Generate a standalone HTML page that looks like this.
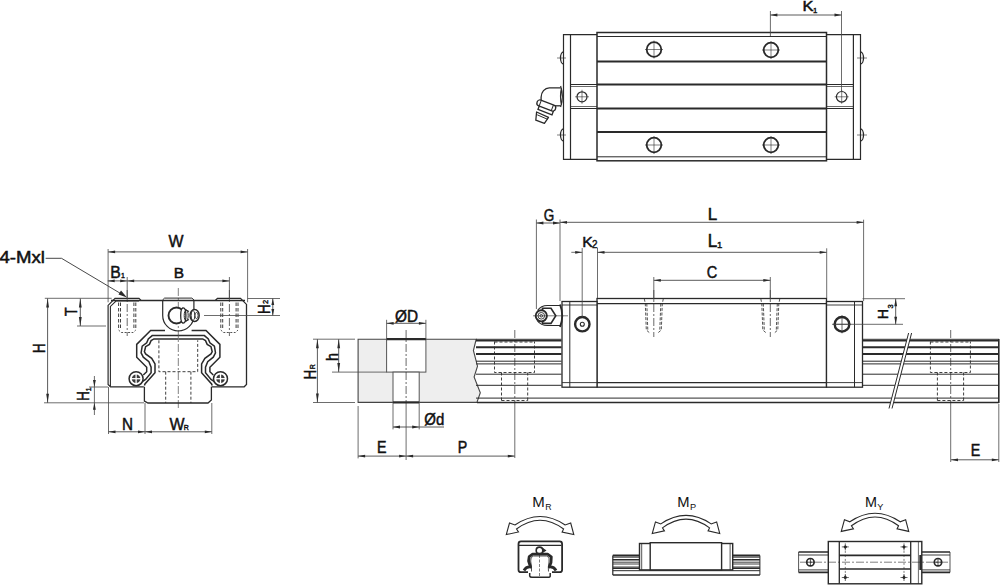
<!DOCTYPE html>
<html><head><meta charset="utf-8"><style>
html,body{margin:0;padding:0;background:#fff;}
svg{display:block;}
text{font-family:"Liberation Sans",sans-serif;fill:#111;}
</style></head><body>
<svg width="1000" height="585" viewBox="0 0 1000 585">
<rect x="597" y="32.5" width="229.5" height="128.3" fill="none" stroke="#2a2a2a" stroke-width="1.5"/>
<line x1="597" y1="36.5" x2="826.5" y2="36.5" stroke="#2a2a2a" stroke-width="1.0"/>
<line x1="597" y1="156.8" x2="826.5" y2="156.8" stroke="#2a2a2a" stroke-width="1.0"/>
<line x1="597" y1="61.5" x2="826.5" y2="61.5" stroke="#2a2a2a" stroke-width="2.0"/>
<line x1="597" y1="84.5" x2="826.5" y2="84.5" stroke="#2a2a2a" stroke-width="2.0"/>
<line x1="597" y1="108.5" x2="826.5" y2="108.5" stroke="#2a2a2a" stroke-width="2.0"/>
<line x1="597" y1="132" x2="826.5" y2="132" stroke="#2a2a2a" stroke-width="2.0"/>
<polyline points="597,34.7 563.5,34.7 563.5,159.3 597,159.3" fill="none" stroke="#2a2a2a" stroke-width="1.2" stroke-linejoin="miter"/>
<line x1="570.5" y1="34.7" x2="570.5" y2="159.3" stroke="#2a2a2a" stroke-width="1.2"/>
<line x1="570.5" y1="84.5" x2="597" y2="84.5" stroke="#2a2a2a" stroke-width="1.0"/>
<line x1="570.5" y1="86.5" x2="597" y2="86.5" stroke="#2a2a2a" stroke-width="0.7"/>
<line x1="570.5" y1="108.5" x2="597" y2="108.5" stroke="#2a2a2a" stroke-width="1.0"/>
<line x1="570.5" y1="106.5" x2="597" y2="106.5" stroke="#2a2a2a" stroke-width="0.7"/>
<circle cx="582" cy="96.8" r="5" fill="none" stroke="#2a2a2a" stroke-width="1.2"/>
<line x1="575" y1="96.8" x2="589" y2="96.8" stroke="#2a2a2a" stroke-width="0.6"/>
<line x1="582" y1="89.8" x2="582" y2="103.8" stroke="#2a2a2a" stroke-width="0.6"/>
<polyline points="826.5,34.7 860.5,34.7 860.5,159.3 826.5,159.3" fill="none" stroke="#2a2a2a" stroke-width="1.2" stroke-linejoin="miter"/>
<line x1="853.4" y1="34.7" x2="853.4" y2="159.3" stroke="#2a2a2a" stroke-width="1.2"/>
<line x1="826.5" y1="84.5" x2="853.4" y2="84.5" stroke="#2a2a2a" stroke-width="1.0"/>
<line x1="826.5" y1="86.5" x2="853.4" y2="86.5" stroke="#2a2a2a" stroke-width="0.7"/>
<line x1="826.5" y1="108.5" x2="853.4" y2="108.5" stroke="#2a2a2a" stroke-width="1.0"/>
<line x1="826.5" y1="106.5" x2="853.4" y2="106.5" stroke="#2a2a2a" stroke-width="0.7"/>
<circle cx="841.7" cy="96.8" r="5.3" fill="none" stroke="#2a2a2a" stroke-width="1.2"/>
<line x1="834.7" y1="96.8" x2="848.7" y2="96.8" stroke="#2a2a2a" stroke-width="0.6"/>
<line x1="841.7" y1="89.8" x2="841.7" y2="103.8" stroke="#2a2a2a" stroke-width="0.6"/>
<path d="M563.5,52 A3,6 0 0 0 563.5,64" fill="none" stroke="#2a2a2a" stroke-width="1.3" />
<line x1="557" y1="58" x2="566" y2="58" stroke="#2a2a2a" stroke-width="0.6"/>
<path d="M860.5,52 A3,6 0 0 1 860.5,64" fill="none" stroke="#2a2a2a" stroke-width="1.3" />
<line x1="857" y1="58" x2="867" y2="58" stroke="#2a2a2a" stroke-width="0.6"/>
<path d="M563.5,129 A3,6 0 0 0 563.5,141" fill="none" stroke="#2a2a2a" stroke-width="1.3" />
<line x1="557" y1="135" x2="566" y2="135" stroke="#2a2a2a" stroke-width="0.6"/>
<path d="M860.5,129 A3,6 0 0 1 860.5,141" fill="none" stroke="#2a2a2a" stroke-width="1.3" />
<line x1="857" y1="135" x2="867" y2="135" stroke="#2a2a2a" stroke-width="0.6"/>
<circle cx="654" cy="49.5" r="7.3" fill="none" stroke="#2a2a2a" stroke-width="1.8"/>
<line x1="645" y1="49.5" x2="663" y2="49.5" stroke="#2a2a2a" stroke-width="0.6"/>
<line x1="654" y1="40.5" x2="654" y2="58.5" stroke="#2a2a2a" stroke-width="0.6"/>
<circle cx="771" cy="50" r="7.3" fill="none" stroke="#2a2a2a" stroke-width="1.8"/>
<line x1="762" y1="50" x2="780" y2="50" stroke="#2a2a2a" stroke-width="0.6"/>
<line x1="771" y1="41" x2="771" y2="59" stroke="#2a2a2a" stroke-width="0.6"/>
<circle cx="654" cy="145" r="7.3" fill="none" stroke="#2a2a2a" stroke-width="1.8"/>
<line x1="645" y1="145" x2="663" y2="145" stroke="#2a2a2a" stroke-width="0.6"/>
<line x1="654" y1="136" x2="654" y2="154" stroke="#2a2a2a" stroke-width="0.6"/>
<circle cx="771" cy="145" r="7.3" fill="none" stroke="#2a2a2a" stroke-width="1.8"/>
<line x1="762" y1="145" x2="780" y2="145" stroke="#2a2a2a" stroke-width="0.6"/>
<line x1="771" y1="136" x2="771" y2="154" stroke="#2a2a2a" stroke-width="0.6"/>
<line x1="770.4" y1="11" x2="770.4" y2="36" stroke="#474747" stroke-width="0.8"/>
<line x1="841.5" y1="11" x2="841.5" y2="92" stroke="#474747" stroke-width="0.8"/>
<line x1="770.4" y1="15" x2="841.5" y2="15" stroke="#474747" stroke-width="0.9"/>
<polygon points="770.4,15 777.4,13.6 777.4,16.4" fill="#2a2a2a" stroke="none"/>
<polygon points="841.5,15 834.5,13.6 834.5,16.4" fill="#2a2a2a" stroke="none"/>
<text x="808" y="11.2" font-size="15" text-anchor="middle" font-weight="normal" stroke="#111" stroke-width="0.5" textLength="11" lengthAdjust="spacingAndGlyphs">K</text>
<text x="815.1" y="12.6" font-size="7.8" text-anchor="middle" font-weight="normal" stroke="#111" stroke-width="0.4">1</text>
<path d="M560.8,87.8 L549.3,87.8 A8.2,9.4 0 0 0 541.1,97.2 L541.1,100" fill="none" stroke="#2a2a2a" stroke-width="1.3" />
<line x1="555" y1="105.8" x2="560.8" y2="105.8" stroke="#2a2a2a" stroke-width="1.3"/>
<path d="M560.6,86 Q564.2,96.5 560.6,107 M561.5,88 Q559.5,96.5 561.5,105" fill="none" stroke="#2a2a2a" stroke-width="1.2" />
<polygon points="536.6,112 548.5,117.3 544.4,123.4 535.8,120.2" fill="#fff" stroke="#2a2a2a" stroke-width="1.3" stroke-linejoin="round"/>
<line x1="537.2" y1="114.8" x2="547.6" y2="119.3" stroke="#2a2a2a" stroke-width="1.0"/>
<g transform="translate(545.8,110) rotate(21)"><rect x="-7.5" y="-2.3" width="15" height="4.6" fill="#fff" stroke="#2a2a2a" stroke-width="1.3"/></g>
<g transform="translate(546.3,105.5) rotate(21)"><rect x="-9.8" y="-3" width="19.6" height="6" rx="2.8" fill="#fff" stroke="#2a2a2a" stroke-width="1.3"/><line x1="-6.5" y1="-3" x2="-6.5" y2="3" stroke="#2a2a2a" stroke-width="1"/><line x1="6.5" y1="-3" x2="6.5" y2="3" stroke="#2a2a2a" stroke-width="1"/></g>
<polyline points="143.8,386.8 110.5,386.8 108.1,384.5 108.1,305.4 115,298.3 139,298.3 141,300.3" fill="none" stroke="#2a2a2a" stroke-width="1.2" stroke-linejoin="miter"/>
<polyline points="110.4,386 110.4,306.4 116,301 139,301" fill="none" stroke="#2a2a2a" stroke-width="1.1" stroke-linejoin="miter"/>
<polyline points="211.7,386.8 244.2,386.8 246.5,384.5 246.5,304.4 240.5,298.3 217.5,298.3 215.5,300.3" fill="none" stroke="#2a2a2a" stroke-width="1.3" stroke-linejoin="miter"/>
<line x1="111" y1="300.4" x2="245" y2="300.4" stroke="#2a2a2a" stroke-width="1.5"/>
<polyline points="144.4,386.8 144.4,401 148,403 208,403 211.4,400 211.4,386.8" fill="none" stroke="#2a2a2a" stroke-width="1.3" stroke-linejoin="miter"/>
<polyline points="165,330.5 150.6,330.5 136.7,344.4 136.7,357.2 146.7,367.2 146.7,371.7 143.3,375" fill="none" stroke="#2a2a2a" stroke-width="1.5" stroke-linejoin="miter"/>
<polyline points="191.6,330.5 206.0,330.5 219.9,344.4 219.9,357.2 209.9,367.2 209.9,371.7 213.3,375" fill="none" stroke="#2a2a2a" stroke-width="1.5" stroke-linejoin="miter"/>
<polyline points="178.3,335.6 152.2,335.6 148.3,338.9 146.7,342.8 142.2,346.1 141.1,352.8 143.3,357.2 148.9,361.7 151.1,367.2 151.1,372.8 145.6,379.4 142.2,381.7" fill="none" stroke="#2a2a2a" stroke-width="1.5" stroke-linejoin="miter"/>
<polyline points="178.3,335.6 204.4,335.6 208.3,338.9 209.9,342.8 214.4,346.1 215.5,352.8 213.3,357.2 207.7,361.7 205.5,367.2 205.5,372.8 211.0,379.4 214.4,381.7" fill="none" stroke="#2a2a2a" stroke-width="1.5" stroke-linejoin="miter"/>
<polyline points="178.3,338.9 153.9,338.9 151.1,340.6 149.4,344.4 145.6,346.7 144.4,351.7 145.6,353.9 151.7,358.3 155,363.9 155,372.8 145,383.9 144.4,385.6" fill="none" stroke="#2a2a2a" stroke-width="1.5" stroke-linejoin="miter"/>
<polyline points="178.3,338.9 202.7,338.9 205.5,340.6 207.2,344.4 211.0,346.7 212.2,351.7 211.0,353.9 204.9,358.3 201.6,363.9 201.6,372.8 211.6,383.9 212.2,385.6" fill="none" stroke="#2a2a2a" stroke-width="1.5" stroke-linejoin="miter"/>
<circle cx="136.1" cy="378.7" r="7.0" fill="#fff" stroke="#2a2a2a" stroke-width="1.5"/>
<circle cx="136.1" cy="378.7" r="4.3" fill="#3a3a3a" stroke="#2a2a2a" stroke-width="0"/>
<line x1="131.1" y1="378.7" x2="141.1" y2="378.7" stroke="#fff" stroke-width="1.3"/>
<line x1="136.1" y1="373.5" x2="136.1" y2="384" stroke="#fff" stroke-width="1.3"/>
<circle cx="220.5" cy="378.7" r="7.0" fill="#fff" stroke="#2a2a2a" stroke-width="1.5"/>
<circle cx="220.5" cy="378.7" r="4.3" fill="#3a3a3a" stroke="#2a2a2a" stroke-width="0"/>
<line x1="215.5" y1="378.7" x2="225.5" y2="378.7" stroke="#fff" stroke-width="1.3"/>
<line x1="220.5" y1="373.5" x2="220.5" y2="384" stroke="#fff" stroke-width="1.3"/>
<polyline points="158.9,340.3 158.9,371.7 197.7,371.7 197.7,340.3" fill="none" stroke="#2a2a2a" stroke-width="0.9" stroke-linejoin="miter" stroke-dasharray="3,2"/>
<line x1="165.7" y1="371.7" x2="165.7" y2="403" stroke="#2a2a2a" stroke-width="0.9" stroke-dasharray="3,2"/>
<line x1="190.9" y1="371.7" x2="190.9" y2="403" stroke="#2a2a2a" stroke-width="0.9" stroke-dasharray="3,2"/>
<line x1="178.3" y1="288" x2="178.3" y2="410" stroke="#2a2a2a" stroke-width="0.6" stroke-dasharray="8,2,2,2"/>
<path d="M162.7,300.5 L162.7,315.4 A15.6,15.6 0 0 0 193.9,315.4 L193.9,300.5" fill="none" stroke="#2a2a2a" stroke-width="1.2" />
<polyline points="162.5,300 164.6,298.1 191.9,298.1 194,300" fill="none" stroke="#2a2a2a" stroke-width="1.0" stroke-linejoin="miter"/>
<circle cx="176.5" cy="315.5" r="8" fill="#fff" stroke="#2a2a2a" stroke-width="1.9"/>
<path d="M182,308 L189,311.5 M182,323 L189,319.5" stroke="#2a2a2a" stroke-width="1.1" fill="none"/>
<ellipse cx="183.3" cy="315.5" rx="2.6" ry="7.6" fill="#fff" stroke="#2a2a2a" stroke-width="1.3"/>
<ellipse cx="186.2" cy="315.5" rx="2" ry="5.5" fill="none" stroke="#2a2a2a" stroke-width="1.0"/>
<ellipse cx="194.6" cy="315.5" rx="4.6" ry="6" fill="#fff" stroke="#2a2a2a" stroke-width="1.4"/>
<ellipse cx="193" cy="315.5" rx="1.8" ry="5" fill="none" stroke="#2a2a2a" stroke-width="0.9"/>
<ellipse cx="196.5" cy="315.5" rx="1.6" ry="3" fill="none" stroke="#2a2a2a" stroke-width="0.9"/>
<line x1="118.60000000000001" y1="302.5" x2="118.60000000000001" y2="330" stroke="#2a2a2a" stroke-width="0.9" stroke-dasharray="3.5,2"/>
<line x1="120.5" y1="302.5" x2="120.5" y2="330" stroke="#2a2a2a" stroke-width="0.9" stroke-dasharray="3.5,2"/>
<line x1="133.9" y1="302.5" x2="133.9" y2="330" stroke="#2a2a2a" stroke-width="0.9" stroke-dasharray="3.5,2"/>
<line x1="135.8" y1="302.5" x2="135.8" y2="330" stroke="#2a2a2a" stroke-width="0.9" stroke-dasharray="3.5,2"/>
<line x1="127.2" y1="290" x2="127.2" y2="336" stroke="#2a2a2a" stroke-width="0.7" stroke-dasharray="8,2,2,2"/>
<polyline points="118.60000000000001,330 121.2,332.5 133.2,332.5 135.8,330" fill="none" stroke="#2a2a2a" stroke-width="0.8" stroke-linejoin="miter" stroke-dasharray="2,1.5"/>
<line x1="220.8" y1="302.5" x2="220.8" y2="330" stroke="#2a2a2a" stroke-width="0.9" stroke-dasharray="3.5,2"/>
<line x1="222.70000000000002" y1="302.5" x2="222.70000000000002" y2="330" stroke="#2a2a2a" stroke-width="0.9" stroke-dasharray="3.5,2"/>
<line x1="236.1" y1="302.5" x2="236.1" y2="330" stroke="#2a2a2a" stroke-width="0.9" stroke-dasharray="3.5,2"/>
<line x1="238.0" y1="302.5" x2="238.0" y2="330" stroke="#2a2a2a" stroke-width="0.9" stroke-dasharray="3.5,2"/>
<line x1="229.4" y1="290" x2="229.4" y2="336" stroke="#2a2a2a" stroke-width="0.7" stroke-dasharray="8,2,2,2"/>
<polyline points="220.8,330 223.4,332.5 235.4,332.5 238.0,330" fill="none" stroke="#2a2a2a" stroke-width="0.8" stroke-linejoin="miter" stroke-dasharray="2,1.5"/>
<line x1="108.1" y1="249" x2="108.1" y2="302.3" stroke="#474747" stroke-width="0.8"/>
<line x1="247.6" y1="249" x2="247.6" y2="302.3" stroke="#474747" stroke-width="0.8"/>
<line x1="108.1" y1="251.9" x2="247.6" y2="251.9" stroke="#474747" stroke-width="0.9"/>
<polygon points="108.1,251.9 115.1,250.5 115.1,253.3" fill="#2a2a2a" stroke="none"/>
<polygon points="247.6,251.9 240.6,250.5 240.6,253.3" fill="#2a2a2a" stroke="none"/>
<text x="176" y="247.4" font-size="16.7" text-anchor="middle" font-weight="normal" stroke="#111" stroke-width="0.5" textLength="15" lengthAdjust="spacingAndGlyphs">W</text>
<line x1="127.2" y1="277" x2="127.2" y2="300" stroke="#474747" stroke-width="0.8"/>
<line x1="229.4" y1="277" x2="229.4" y2="300" stroke="#474747" stroke-width="0.8"/>
<line x1="107.7" y1="280.9" x2="127.2" y2="280.9" stroke="#474747" stroke-width="0.9"/>
<polygon points="107.7,280.9 114.7,279.5 114.7,282.29999999999995" fill="#2a2a2a" stroke="none"/>
<polygon points="127.2,280.9 120.2,279.5 120.2,282.29999999999995" fill="#2a2a2a" stroke="none"/>
<line x1="127.2" y1="280.9" x2="229.4" y2="280.9" stroke="#474747" stroke-width="0.9"/>
<polygon points="127.2,280.9 134.2,279.5 134.2,282.29999999999995" fill="#2a2a2a" stroke="none"/>
<polygon points="229.4,280.9 222.4,279.5 222.4,282.29999999999995" fill="#2a2a2a" stroke="none"/>
<text x="115.6" y="277.8" font-size="16.5" text-anchor="middle" font-weight="normal" stroke="#111" stroke-width="0.5" textLength="10.5" lengthAdjust="spacingAndGlyphs">B</text>
<text x="123" y="278.4" font-size="7" text-anchor="middle" font-weight="normal" stroke="#111" stroke-width="0.4">1</text>
<text x="179" y="278.4" font-size="15.4" text-anchor="middle" font-weight="normal" stroke="#111" stroke-width="0.5" textLength="10.3" lengthAdjust="spacingAndGlyphs">B</text>
<text x="-0.5" y="263.4" font-size="16.9" text-anchor="start" font-weight="normal" stroke="#111" stroke-width="0.5" textLength="45.5" lengthAdjust="spacingAndGlyphs">4-Mxl</text>
<polyline points="45.6,258.3 61.5,258.3 124,295.5" fill="none" stroke="#333" stroke-width="0.9" stroke-linejoin="miter"/>
<polygon points="127,297.5 118.5,294.5 121,290.5" fill="#2a2a2a"/>
<line x1="44.8" y1="298.3" x2="111.7" y2="298.3" stroke="#474747" stroke-width="0.8"/>
<line x1="44" y1="402.8" x2="144" y2="402.8" stroke="#474747" stroke-width="0.8"/>
<line x1="47.6" y1="298.5" x2="47.6" y2="402.8" stroke="#474747" stroke-width="0.9"/>
<polygon points="47.6,298.5 46.2,307.5 49.0,307.5" fill="#2a2a2a" stroke="none"/>
<polygon points="47.6,402.8 46.2,393.8 49.0,393.8" fill="#2a2a2a" stroke="none"/>
<text x="45.2" y="348.2" font-size="16.5" text-anchor="middle" font-weight="normal" stroke="#111" stroke-width="0.5" textLength="10" lengthAdjust="spacingAndGlyphs" transform="rotate(-90 45.2 348.2)">H</text>
<line x1="77" y1="326" x2="106" y2="326" stroke="#474747" stroke-width="0.8"/>
<line x1="80.3" y1="298.5" x2="80.3" y2="326" stroke="#474747" stroke-width="0.9"/>
<polygon points="80.3,298.5 78.89999999999999,307.5 81.7,307.5" fill="#2a2a2a" stroke="none"/>
<polygon points="80.3,326 78.89999999999999,317 81.7,317" fill="#2a2a2a" stroke="none"/>
<text x="77.4" y="311.7" font-size="17" text-anchor="middle" font-weight="normal" stroke="#111" stroke-width="0.5" textLength="8.6" lengthAdjust="spacingAndGlyphs" transform="rotate(-90 77.4 311.7)">T</text>
<line x1="89" y1="387" x2="108" y2="387" stroke="#474747" stroke-width="0.8"/>
<line x1="94.4" y1="376" x2="94.4" y2="415" stroke="#474747" stroke-width="0.8"/>
<polygon points="94.4,387 93.0,380 95.80000000000001,380" fill="#2a2a2a" stroke="none"/>
<polygon points="94.4,402.8 93.0,409.8 95.80000000000001,409.8" fill="#2a2a2a" stroke="none"/>
<text x="89.4" y="396" font-size="16" text-anchor="middle" font-weight="normal" stroke="#111" stroke-width="0.5" textLength="9.6" lengthAdjust="spacingAndGlyphs" transform="rotate(-90 89.4 396)">H</text>
<text x="90.6" y="389.4" font-size="7" text-anchor="middle" font-weight="normal" stroke="#111" stroke-width="0.4" transform="rotate(-90 90.6 389.4)">1</text>
<line x1="247.6" y1="298.5" x2="280" y2="298.5" stroke="#474747" stroke-width="0.8"/>
<line x1="204" y1="315.5" x2="280" y2="315.5" stroke="#474747" stroke-width="0.8"/>
<line x1="272.8" y1="298.5" x2="272.8" y2="315.5" stroke="#474747" stroke-width="0.9"/>
<polygon points="272.8,298.5 271.40000000000003,305.0 274.2,305.0" fill="#2a2a2a" stroke="none"/>
<polygon points="272.8,315.5 271.40000000000003,309.0 274.2,309.0" fill="#2a2a2a" stroke="none"/>
<text x="269.8" y="309.2" font-size="16.5" text-anchor="middle" font-weight="normal" stroke="#111" stroke-width="0.5" textLength="9.5" lengthAdjust="spacingAndGlyphs" transform="rotate(-90 269.8 309.2)">H</text>
<text x="268.2" y="302" font-size="7.5" text-anchor="middle" font-weight="normal" stroke="#111" stroke-width="0.4" transform="rotate(-90 268.2 302)">2</text>
<line x1="108.5" y1="387" x2="108.5" y2="434" stroke="#474747" stroke-width="0.8"/>
<line x1="145" y1="403" x2="145" y2="434" stroke="#474747" stroke-width="0.8"/>
<line x1="211.8" y1="403" x2="211.8" y2="434" stroke="#474747" stroke-width="0.8"/>
<line x1="108.5" y1="431.8" x2="145" y2="431.8" stroke="#474747" stroke-width="0.9"/>
<polygon points="108.5,431.8 115.5,430.40000000000003 115.5,433.2" fill="#2a2a2a" stroke="none"/>
<polygon points="145,431.8 138,430.40000000000003 138,433.2" fill="#2a2a2a" stroke="none"/>
<line x1="145" y1="431.8" x2="211.8" y2="431.8" stroke="#474747" stroke-width="0.9"/>
<polygon points="145,431.8 152,430.40000000000003 152,433.2" fill="#2a2a2a" stroke="none"/>
<polygon points="211.8,431.8 204.8,430.40000000000003 204.8,433.2" fill="#2a2a2a" stroke="none"/>
<text x="127.5" y="429.8" font-size="17.3" text-anchor="middle" font-weight="normal" stroke="#111" stroke-width="0.5" textLength="11" lengthAdjust="spacingAndGlyphs">N</text>
<text x="176.9" y="429.8" font-size="17.3" text-anchor="middle" font-weight="normal" stroke="#111" stroke-width="0.5" textLength="15" lengthAdjust="spacingAndGlyphs">W</text>
<text x="186.3" y="430.2" font-size="7" text-anchor="middle" font-weight="normal" stroke="#111" stroke-width="0.4">R</text>
<path d="M358.1,339.2 L476.2,339.2 L473.4,350.5 L477.5,366.2 L474.1,377 L480.3,392.8 L476.9,402.4 L358.1,402.4 Z" fill="#eeeeee" stroke="#444" stroke-width="1.1" />
<rect x="386.6" y="339.2" width="39.3" height="32.9" fill="#fff" stroke="#555" stroke-width="1.0"/>
<rect x="393" y="372.1" width="26.2" height="30.3" fill="#fff" stroke="#555" stroke-width="1.0"/>
<line x1="386.6" y1="339.2" x2="425.9" y2="339.2" stroke="#2a2a2a" stroke-width="2.2"/>
<line x1="393" y1="402.4" x2="419.2" y2="402.4" stroke="#2a2a2a" stroke-width="2.2"/>
<line x1="406.1" y1="330" x2="406.1" y2="404" stroke="#2a2a2a" stroke-width="0.7" stroke-dasharray="8,2,2,2"/>
<line x1="406.1" y1="404" x2="406.1" y2="460" stroke="#474747" stroke-width="0.8"/>
<line x1="386.6" y1="319.8" x2="386.6" y2="339" stroke="#474747" stroke-width="0.8"/>
<line x1="425.9" y1="319.8" x2="425.9" y2="339" stroke="#474747" stroke-width="0.8"/>
<line x1="386.6" y1="323.3" x2="425.9" y2="323.3" stroke="#474747" stroke-width="0.9"/>
<polygon points="386.6,323.3 393.6,321.90000000000003 393.6,324.7" fill="#2a2a2a" stroke="none"/>
<polygon points="425.9,323.3 418.9,321.90000000000003 418.9,324.7" fill="#2a2a2a" stroke="none"/>
<text x="406.6" y="321.7" font-size="16" text-anchor="middle" font-weight="normal" stroke="#111" stroke-width="0.5" textLength="23" lengthAdjust="spacingAndGlyphs">ØD</text>
<line x1="332" y1="372.1" x2="386.6" y2="372.1" stroke="#474747" stroke-width="0.8"/>
<line x1="338.7" y1="339.2" x2="338.7" y2="372.1" stroke="#474747" stroke-width="0.9"/>
<polygon points="338.7,339.2 337.3,348.2 340.09999999999997,348.2" fill="#2a2a2a" stroke="none"/>
<polygon points="338.7,372.1 337.3,363.1 340.09999999999997,363.1" fill="#2a2a2a" stroke="none"/>
<text x="337.6" y="357" font-size="16.5" text-anchor="middle" font-weight="normal" stroke="#111" stroke-width="0.5" textLength="8" lengthAdjust="spacingAndGlyphs" transform="rotate(-90 337.6 357)">h</text>
<line x1="313" y1="339.2" x2="355" y2="339.2" stroke="#474747" stroke-width="0.8"/>
<line x1="313" y1="402.5" x2="355" y2="402.5" stroke="#474747" stroke-width="0.8"/>
<line x1="317.4" y1="339.2" x2="317.4" y2="402.5" stroke="#474747" stroke-width="0.9"/>
<polygon points="317.4,339.2 316.0,348.2 318.79999999999995,348.2" fill="#2a2a2a" stroke="none"/>
<polygon points="317.4,402.5 316.0,393.5 318.79999999999995,393.5" fill="#2a2a2a" stroke="none"/>
<text x="315.6" y="374.6" font-size="16.5" text-anchor="middle" font-weight="normal" stroke="#111" stroke-width="0.5" textLength="9.4" lengthAdjust="spacingAndGlyphs" transform="rotate(-90 315.6 374.6)">H</text>
<text x="315.5" y="366.6" font-size="7" text-anchor="middle" font-weight="normal" stroke="#111" stroke-width="0.4" transform="rotate(-90 315.5 366.6)">R</text>
<line x1="393" y1="402.6" x2="393" y2="429.4" stroke="#474747" stroke-width="0.8"/>
<line x1="419.2" y1="402.6" x2="419.2" y2="429.4" stroke="#474747" stroke-width="0.8"/>
<line x1="393" y1="427" x2="419.2" y2="427" stroke="#474747" stroke-width="0.9"/>
<polygon points="393,427 400,425.6 400,428.4" fill="#2a2a2a" stroke="none"/>
<polygon points="419.2,427 412.2,425.6 412.2,428.4" fill="#2a2a2a" stroke="none"/>
<line x1="419.2" y1="427" x2="444" y2="427" stroke="#474747" stroke-width="0.9"/>
<text x="434.3" y="425.4" font-size="17" text-anchor="middle" font-weight="normal" stroke="#111" stroke-width="0.5" textLength="20" lengthAdjust="spacingAndGlyphs">Ød</text>
<line x1="358.1" y1="406" x2="358.1" y2="458.4" stroke="#474747" stroke-width="0.8"/>
<line x1="358.1" y1="456.1" x2="406.1" y2="456.1" stroke="#474747" stroke-width="0.9"/>
<polygon points="358.1,456.1 365.1,454.70000000000005 365.1,457.5" fill="#2a2a2a" stroke="none"/>
<polygon points="406.1,456.1 399.1,454.70000000000005 399.1,457.5" fill="#2a2a2a" stroke="none"/>
<line x1="406.1" y1="456.1" x2="514.8" y2="456.1" stroke="#474747" stroke-width="0.9"/>
<polygon points="406.1,456.1 413.1,454.70000000000005 413.1,457.5" fill="#2a2a2a" stroke="none"/>
<polygon points="514.8,456.1 507.79999999999995,454.70000000000005 507.79999999999995,457.5" fill="#2a2a2a" stroke="none"/>
<text x="381.8" y="453.4" font-size="16.5" text-anchor="middle" font-weight="normal" stroke="#111" stroke-width="0.5" textLength="9.5" lengthAdjust="spacingAndGlyphs">E</text>
<text x="462.5" y="453.4" font-size="16.5" text-anchor="middle" font-weight="normal" stroke="#111" stroke-width="0.5" textLength="9.5" lengthAdjust="spacingAndGlyphs">P</text>
<line x1="476" y1="339.3" x2="561.5" y2="339.3" stroke="#2a2a2a" stroke-width="1.0"/>
<line x1="476" y1="340.8" x2="561.5" y2="340.8" stroke="#2a2a2a" stroke-width="1.6"/>
<line x1="476" y1="347.2" x2="561.5" y2="347.2" stroke="#2a2a2a" stroke-width="2.0"/>
<line x1="476" y1="353.9" x2="561.5" y2="353.9" stroke="#2a2a2a" stroke-width="2.0"/>
<line x1="476" y1="361.2" x2="561.5" y2="361.2" stroke="#2a2a2a" stroke-width="1.0"/>
<line x1="476" y1="363.9" x2="561.5" y2="363.9" stroke="#2a2a2a" stroke-width="1.0"/>
<line x1="476" y1="374.2" x2="561.5" y2="374.2" stroke="#2a2a2a" stroke-width="1.0"/>
<line x1="476" y1="385.3" x2="561.5" y2="385.3" stroke="#2a2a2a" stroke-width="1.0"/>
<line x1="862.5" y1="339.3" x2="999" y2="339.3" stroke="#2a2a2a" stroke-width="1.0"/>
<line x1="862.5" y1="340.8" x2="999" y2="340.8" stroke="#2a2a2a" stroke-width="1.6"/>
<line x1="862.5" y1="347.2" x2="999" y2="347.2" stroke="#2a2a2a" stroke-width="2.0"/>
<line x1="862.5" y1="353.9" x2="999" y2="353.9" stroke="#2a2a2a" stroke-width="2.0"/>
<line x1="862.5" y1="361.2" x2="999" y2="361.2" stroke="#2a2a2a" stroke-width="1.0"/>
<line x1="862.5" y1="363.9" x2="999" y2="363.9" stroke="#2a2a2a" stroke-width="1.0"/>
<line x1="862.5" y1="374.2" x2="999" y2="374.2" stroke="#2a2a2a" stroke-width="1.0"/>
<line x1="862.5" y1="385.3" x2="999" y2="385.3" stroke="#2a2a2a" stroke-width="1.0"/>
<line x1="476" y1="398.1" x2="999" y2="398.1" stroke="#2a2a2a" stroke-width="1.0"/>
<line x1="476.9" y1="402.5" x2="999" y2="402.5" stroke="#2a2a2a" stroke-width="1.4"/>
<line x1="998.8" y1="339" x2="998.8" y2="403" stroke="#2a2a2a" stroke-width="1.6"/>
<polyline points="494.49999999999994,341.5 494.49999999999994,372.5 534.5,372.5 534.5,341.5" fill="none" stroke="#2a2a2a" stroke-width="0.9" stroke-linejoin="miter" stroke-dasharray="3,2"/>
<line x1="494.49999999999994" y1="342" x2="534.5" y2="342" stroke="#2a2a2a" stroke-width="0.9" stroke-dasharray="3,2"/>
<line x1="501.49999999999994" y1="372.5" x2="501.49999999999994" y2="402" stroke="#2a2a2a" stroke-width="0.9" stroke-dasharray="3,2"/>
<line x1="527.6999999999999" y1="372.5" x2="527.6999999999999" y2="402" stroke="#2a2a2a" stroke-width="0.9" stroke-dasharray="3,2"/>
<line x1="501.49999999999994" y1="400.5" x2="527.6999999999999" y2="400.5" stroke="#2a2a2a" stroke-width="0.9" stroke-dasharray="3,2"/>
<line x1="514.8" y1="330" x2="514.8" y2="405" stroke="#2a2a2a" stroke-width="0.7" stroke-dasharray="8,2,2,2"/>
<polyline points="930.4000000000001,341.5 930.4000000000001,372.5 970.4000000000001,372.5 970.4000000000001,341.5" fill="none" stroke="#2a2a2a" stroke-width="0.9" stroke-linejoin="miter" stroke-dasharray="3,2"/>
<line x1="930.4000000000001" y1="342" x2="970.4000000000001" y2="342" stroke="#2a2a2a" stroke-width="0.9" stroke-dasharray="3,2"/>
<line x1="937.4000000000001" y1="372.5" x2="937.4000000000001" y2="402" stroke="#2a2a2a" stroke-width="0.9" stroke-dasharray="3,2"/>
<line x1="963.6" y1="372.5" x2="963.6" y2="402" stroke="#2a2a2a" stroke-width="0.9" stroke-dasharray="3,2"/>
<line x1="937.4000000000001" y1="400.5" x2="963.6" y2="400.5" stroke="#2a2a2a" stroke-width="0.9" stroke-dasharray="3,2"/>
<line x1="950.7" y1="330" x2="950.7" y2="405" stroke="#2a2a2a" stroke-width="0.7" stroke-dasharray="8,2,2,2"/>
<line x1="514.8" y1="405" x2="514.8" y2="458" stroke="#474747" stroke-width="0.8"/>
<line x1="950.7" y1="405" x2="950.7" y2="462" stroke="#474747" stroke-width="0.8"/>
<polygon points="908.6,333 911.6,333 892,408.5 889,408.5" fill="#fff" stroke="none"/>
<line x1="908.6" y1="333" x2="889" y2="408.5" stroke="#2a2a2a" stroke-width="1.0"/>
<line x1="911.6" y1="333" x2="892" y2="408.5" stroke="#2a2a2a" stroke-width="1.0"/>
<rect x="597" y="298.5" width="229.5" height="88.7" fill="#fff" stroke="#2a2a2a" stroke-width="1.3"/>
<line x1="597" y1="303.6" x2="826.5" y2="303.6" stroke="#2a2a2a" stroke-width="1.2"/>
<line x1="597" y1="382.6" x2="826.5" y2="382.6" stroke="#2a2a2a" stroke-width="1.3"/>
<rect x="562" y="301.5" width="35" height="85.7" fill="#fff" stroke="#2a2a2a" stroke-width="1.3"/>
<line x1="569.8" y1="301.5" x2="569.8" y2="387.2" stroke="#2a2a2a" stroke-width="1.0"/>
<line x1="562" y1="305" x2="597" y2="305" stroke="#2a2a2a" stroke-width="0.9"/>
<line x1="562" y1="382.6" x2="597" y2="382.6" stroke="#2a2a2a" stroke-width="0.9"/>
<rect x="826.5" y="301.5" width="36" height="85.7" fill="#fff" stroke="#2a2a2a" stroke-width="1.3"/>
<line x1="854.5" y1="301.5" x2="854.5" y2="387.2" stroke="#2a2a2a" stroke-width="1.0"/>
<line x1="826.5" y1="305" x2="862.5" y2="305" stroke="#2a2a2a" stroke-width="0.9"/>
<line x1="826.5" y1="382.6" x2="862.5" y2="382.6" stroke="#2a2a2a" stroke-width="0.9"/>
<circle cx="582.3" cy="324.2" r="7.2" fill="none" stroke="#2a2a2a" stroke-width="2.4"/>
<circle cx="582.3" cy="324.2" r="2" fill="none" stroke="#2a2a2a" stroke-width="1.1"/>
<circle cx="842" cy="324.3" r="7.3" fill="none" stroke="#2a2a2a" stroke-width="2.4"/>
<line x1="833" y1="324.3" x2="851" y2="324.3" stroke="#2a2a2a" stroke-width="0.7"/>
<line x1="842" y1="315.3" x2="842" y2="333.3" stroke="#2a2a2a" stroke-width="0.7"/>
<polyline points="644.3,298.8 645.3,303.6 646.3,330 649.8,333" fill="none" stroke="#2a2a2a" stroke-width="0.8" stroke-linejoin="miter" stroke-dasharray="3,1.6"/>
<polyline points="646.8,303.6 647.8,330" fill="none" stroke="#2a2a2a" stroke-width="0.8" stroke-linejoin="miter" stroke-dasharray="3,1.6"/>
<polyline points="663.3,298.8 662.3,303.6 661.3,330 657.8,333" fill="none" stroke="#2a2a2a" stroke-width="0.8" stroke-linejoin="miter" stroke-dasharray="3,1.6"/>
<polyline points="660.8,303.6 659.8,330" fill="none" stroke="#2a2a2a" stroke-width="0.8" stroke-linejoin="miter" stroke-dasharray="3,1.6"/>
<line x1="653.8" y1="290" x2="653.8" y2="337" stroke="#2a2a2a" stroke-width="0.7" stroke-dasharray="8,2,2,2"/>
<polyline points="760.8,298.8 761.8,303.6 762.8,330 766.3,333" fill="none" stroke="#2a2a2a" stroke-width="0.8" stroke-linejoin="miter" stroke-dasharray="3,1.6"/>
<polyline points="763.3,303.6 764.3,330" fill="none" stroke="#2a2a2a" stroke-width="0.8" stroke-linejoin="miter" stroke-dasharray="3,1.6"/>
<polyline points="779.8,298.8 778.8,303.6 777.8,330 774.3,333" fill="none" stroke="#2a2a2a" stroke-width="0.8" stroke-linejoin="miter" stroke-dasharray="3,1.6"/>
<polyline points="777.3,303.6 776.3,330" fill="none" stroke="#2a2a2a" stroke-width="0.8" stroke-linejoin="miter" stroke-dasharray="3,1.6"/>
<line x1="770.3" y1="290" x2="770.3" y2="337" stroke="#2a2a2a" stroke-width="0.7" stroke-dasharray="8,2,2,2"/>
<path d="M537.5,310.5 Q541,305.5 547.4,305.5 L560.5,305.5 M537.5,321 Q541,325.5 547.4,325.5 L560.5,325.5" fill="none" stroke="#2a2a2a" stroke-width="1.2" />
<path d="M560,304.5 Q564.5,315.8 560,327" fill="none" stroke="#2a2a2a" stroke-width="1.8" />
<polygon points="542.5,308.3 551,308.3 555.8,315.8 551,323.4 542.5,323.4" fill="#fff" stroke="#2a2a2a" stroke-width="1.6"/>
<circle cx="541.3" cy="315.8" r="5.6" fill="#fff" stroke="#2a2a2a" stroke-width="1.9"/>
<circle cx="541.3" cy="315.8" r="3.3" fill="none" stroke="#2a2a2a" stroke-width="0.9"/>
<circle cx="541.3" cy="315.8" r="1.3" fill="none" stroke="#2a2a2a" stroke-width="0.9"/>
<line x1="533" y1="315.8" x2="568" y2="315.8" stroke="#2a2a2a" stroke-width="0.6"/>
<line x1="536.4" y1="219.5" x2="536.4" y2="309" stroke="#474747" stroke-width="0.8"/>
<line x1="560" y1="219.5" x2="560" y2="301" stroke="#474747" stroke-width="0.8"/>
<line x1="536.4" y1="223" x2="560" y2="223" stroke="#474747" stroke-width="0.9"/>
<polygon points="536.4,223 543.4,221.6 543.4,224.4" fill="#2a2a2a" stroke="none"/>
<polygon points="560,223 553,221.6 553,224.4" fill="#2a2a2a" stroke="none"/>
<text x="548.9" y="220.5" font-size="16.2" text-anchor="middle" font-weight="normal" stroke="#111" stroke-width="0.5" textLength="10.5" lengthAdjust="spacingAndGlyphs">G</text>
<line x1="863.6" y1="219.7" x2="863.6" y2="301" stroke="#474747" stroke-width="0.8"/>
<line x1="560" y1="222.3" x2="863.6" y2="222.3" stroke="#474747" stroke-width="0.9"/>
<polygon points="560,222.3 567,220.9 567,223.70000000000002" fill="#2a2a2a" stroke="none"/>
<polygon points="863.6,222.3 856.6,220.9 856.6,223.70000000000002" fill="#2a2a2a" stroke="none"/>
<text x="712.5" y="219.6" font-size="16.9" text-anchor="middle" font-weight="normal" stroke="#111" stroke-width="0.5" textLength="9.5" lengthAdjust="spacingAndGlyphs">L</text>
<line x1="582.2" y1="248" x2="582.2" y2="317" stroke="#474747" stroke-width="0.8"/>
<line x1="597.5" y1="248" x2="597.5" y2="298" stroke="#474747" stroke-width="0.8"/>
<line x1="571.3" y1="252.3" x2="582.2" y2="252.3" stroke="#474747" stroke-width="0.8"/>
<polygon points="582.2,252.3 575.2,250.9 575.2,253.70000000000002" fill="#2a2a2a" stroke="none"/>
<line x1="597.5" y1="252.3" x2="826.7" y2="252.3" stroke="#474747" stroke-width="0.9"/>
<polygon points="597.5,252.3 604.5,250.9 604.5,253.70000000000002" fill="#2a2a2a" stroke="none"/>
<polygon points="826.7,252.3 819.7,250.9 819.7,253.70000000000002" fill="#2a2a2a" stroke="none"/>
<line x1="826.7" y1="248.3" x2="826.7" y2="298" stroke="#474747" stroke-width="0.8"/>
<text x="587.4" y="246.5" font-size="15.5" text-anchor="middle" font-weight="normal" stroke="#111" stroke-width="0.5" textLength="10.5" lengthAdjust="spacingAndGlyphs">K</text>
<text x="594.7" y="248" font-size="10.5" text-anchor="middle" font-weight="normal" stroke="#111" stroke-width="0.4" textLength="5.5" lengthAdjust="spacingAndGlyphs">2</text>
<text x="712.5" y="247.2" font-size="17.5" text-anchor="middle" font-weight="normal" stroke="#111" stroke-width="0.5" textLength="9.5" lengthAdjust="spacingAndGlyphs">L</text>
<text x="719.7" y="248" font-size="9.5" text-anchor="middle" font-weight="normal" stroke="#111" stroke-width="0.4">1</text>
<line x1="653.8" y1="277" x2="653.8" y2="300" stroke="#474747" stroke-width="0.8"/>
<line x1="770.3" y1="277" x2="770.3" y2="300" stroke="#474747" stroke-width="0.8"/>
<line x1="653.8" y1="280.3" x2="770.3" y2="280.3" stroke="#474747" stroke-width="0.9"/>
<polygon points="653.8,280.3 660.8,278.90000000000003 660.8,281.7" fill="#2a2a2a" stroke="none"/>
<polygon points="770.3,280.3 763.3,278.90000000000003 763.3,281.7" fill="#2a2a2a" stroke="none"/>
<text x="712.1" y="277.6" font-size="16.5" text-anchor="middle" font-weight="normal" stroke="#111" stroke-width="0.5" textLength="10.5" lengthAdjust="spacingAndGlyphs">C</text>
<line x1="862.5" y1="298.7" x2="905" y2="298.7" stroke="#474747" stroke-width="0.8"/>
<line x1="832" y1="324.3" x2="903" y2="324.3" stroke="#474747" stroke-width="0.8"/>
<line x1="895.7" y1="298.7" x2="895.7" y2="324.3" stroke="#474747" stroke-width="0.9"/>
<polygon points="895.7,298.7 894.3000000000001,306.2 897.1,306.2" fill="#2a2a2a" stroke="none"/>
<polygon points="895.7,324.3 894.3000000000001,316.8 897.1,316.8" fill="#2a2a2a" stroke="none"/>
<text x="887.9" y="314.2" font-size="15.5" text-anchor="middle" font-weight="normal" stroke="#111" stroke-width="0.5" textLength="10.3" lengthAdjust="spacingAndGlyphs" transform="rotate(-90 887.9 314.2)">H</text>
<text x="893" y="306.5" font-size="7.5" text-anchor="middle" font-weight="normal" stroke="#111" stroke-width="0.4" transform="rotate(-90 893 306.5)">3</text>
<line x1="998.8" y1="404" x2="998.8" y2="462" stroke="#474747" stroke-width="0.8"/>
<line x1="951" y1="459.8" x2="998.8" y2="459.8" stroke="#474747" stroke-width="0.9"/>
<polygon points="951,459.8 958,458.40000000000003 958,461.2" fill="#2a2a2a" stroke="none"/>
<polygon points="998.8,459.8 991.8,458.40000000000003 991.8,461.2" fill="#2a2a2a" stroke="none"/>
<text x="975.5" y="456" font-size="15.6" text-anchor="middle" font-weight="normal" stroke="#111" stroke-width="0.5" textLength="9.5" lengthAdjust="spacingAndGlyphs">E</text>
<path transform="translate(0.00,0.00)" d="M514.9,525 Q540.05,508 565.2,525 L570.7,523 L573.8,534.6 L562.1,532 L563.6,529 Q540.05,511.4 516.5,529 L518.5,532 L506.3,534.6 L509.5,523 Z" fill="#fff" stroke="#2a2a2a" stroke-width="1.1" stroke-linejoin="miter"/>
<path transform="translate(145.95,-1.10)" d="M514.9,525 Q540.05,508 565.2,525 L570.7,523 L573.8,534.6 L562.1,532 L563.6,529 Q540.05,511.4 516.5,529 L518.5,532 L506.3,534.6 L509.5,523 Z" fill="#fff" stroke="#2a2a2a" stroke-width="1.1" stroke-linejoin="miter"/>
<path transform="translate(334.95,-3.20)" d="M514.9,525 Q540.05,508 565.2,525 L570.7,523 L573.8,534.6 L562.1,532 L563.6,529 Q540.05,511.4 516.5,529 L518.5,532 L506.3,534.6 L509.5,523 Z" fill="#fff" stroke="#2a2a2a" stroke-width="1.1" stroke-linejoin="miter"/>
<text x="538.5" y="507.1" font-size="14" text-anchor="middle" font-weight="normal" textLength="12.5" lengthAdjust="spacingAndGlyphs">M</text>
<text x="548.4" y="509.8" font-size="8.8" text-anchor="middle" font-weight="normal">R</text>
<text x="683.4" y="507.1" font-size="14.1" text-anchor="middle" font-weight="normal" textLength="12.3" lengthAdjust="spacingAndGlyphs">M</text>
<text x="693.1" y="509.7" font-size="9.2" text-anchor="middle" font-weight="normal">P</text>
<text x="871" y="507.1" font-size="14.1" text-anchor="middle" font-weight="normal" textLength="12" lengthAdjust="spacingAndGlyphs">M</text>
<text x="880.4" y="509.7" font-size="9.2" text-anchor="middle" font-weight="normal">Y</text>
<rect x="518.5" y="541.4" width="43.6" height="30.8" rx="2.5" fill="#fff" stroke="#2a2a2a" stroke-width="1.8"/>
<line x1="519" y1="545.3" x2="561.5" y2="545.3" stroke="#2a2a2a" stroke-width="1.2"/>
<path d="M529.7,571.5 L529.7,576 Q530,577.3 532,577.3 L548,577.3 Q550.2,577.3 550.2,576 L550.2,571.5" fill="none" stroke="#2a2a2a" stroke-width="1.5" />
<rect x="528" y="571" width="24" height="2" fill="#fff"/>
<path d="M524,570.5 Q526,566.5 530.5,567 L528.6,561 L529.2,556.6 L532.6,554.2 L547.6,554.2 L551.3,556.8 L551,562.4 L549.3,567 Q554,566.5 556,570.5" fill="none" stroke="#2a2a2a" stroke-width="2.8" stroke-linejoin="round"/>
<path d="M531.5,571.5 L531.5,567 L530.7,561 L531.2,557.5 L533.5,556 L546.5,556 L549,557.5 L549,562 L548.3,567 L548.5,571.5" fill="none" stroke="#2a2a2a" stroke-width="0.8" />
<circle cx="539.5" cy="550.4" r="3.3" fill="none" stroke="#2a2a2a" stroke-width="1.6"/>
<polygon points="543,548 546.5,550.4 543,552.8" fill="#2a2a2a"/>
<line x1="539.5" y1="555" x2="539.5" y2="577" stroke="#2a2a2a" stroke-width="0.6" stroke-dasharray="3,1.5"/>
<line x1="612.8" y1="555.5" x2="759.9" y2="555.5" stroke="#2a2a2a" stroke-width="1.8"/>
<line x1="612.8" y1="557.2" x2="759.9" y2="557.2" stroke="#2a2a2a" stroke-width="0.9"/>
<line x1="612.8" y1="559.7" x2="759.9" y2="559.7" stroke="#2a2a2a" stroke-width="1.6"/>
<line x1="612.8" y1="562.2" x2="759.9" y2="562.2" stroke="#2a2a2a" stroke-width="0.9"/>
<line x1="612.8" y1="564" x2="759.9" y2="564" stroke="#2a2a2a" stroke-width="0.9"/>
<line x1="612.8" y1="567" x2="759.9" y2="567" stroke="#2a2a2a" stroke-width="0.9"/>
<line x1="612.8" y1="568.3" x2="759.9" y2="568.3" stroke="#2a2a2a" stroke-width="1.5"/>
<line x1="612.8" y1="570.7" x2="759.9" y2="570.7" stroke="#2a2a2a" stroke-width="1.0"/>
<line x1="612.8" y1="575" x2="759.9" y2="575" stroke="#2a2a2a" stroke-width="1.7"/>
<line x1="612.8" y1="555.5" x2="612.8" y2="575" stroke="#2a2a2a" stroke-width="1.2"/>
<line x1="759.9" y1="555.5" x2="759.9" y2="575" stroke="#2a2a2a" stroke-width="1.0"/>
<rect x="639.5" y="543.5" width="93.2" height="26.4" fill="#fff" stroke="#2a2a2a" stroke-width="1.4"/>
<rect x="650.2" y="542.7" width="71.4" height="27.2" fill="#fff" stroke="#2a2a2a" stroke-width="1.4"/>
<line x1="641.7" y1="543.5" x2="641.7" y2="569.9" stroke="#2a2a2a" stroke-width="0.8"/>
<line x1="730.1" y1="543.5" x2="730.1" y2="569.9" stroke="#2a2a2a" stroke-width="0.8"/>
<rect x="798.6" y="552" width="151.4" height="20.4" fill="#fff" stroke="#2a2a2a" stroke-width="0"/>
<line x1="798.6" y1="552" x2="950" y2="552" stroke="#2a2a2a" stroke-width="1.7"/>
<line x1="798.6" y1="572.4" x2="950" y2="572.4" stroke="#2a2a2a" stroke-width="1.7"/>
<line x1="798.6" y1="555" x2="950" y2="555" stroke="#2a2a2a" stroke-width="0.9"/>
<line x1="798.6" y1="569.9" x2="950" y2="569.9" stroke="#2a2a2a" stroke-width="0.9"/>
<line x1="798.6" y1="552" x2="798.6" y2="572.4" stroke="#2a2a2a" stroke-width="0.8"/>
<line x1="950" y1="552" x2="950" y2="572.4" stroke="#2a2a2a" stroke-width="0.8"/>
<circle cx="810.4" cy="562.2" r="3.7" fill="none" stroke="#2a2a2a" stroke-width="1.7"/>
<line x1="806.6999999999999" y1="562.2" x2="814.1" y2="562.2" stroke="#2a2a2a" stroke-width="0.8"/>
<line x1="810.4" y1="558.5" x2="810.4" y2="565.9000000000001" stroke="#2a2a2a" stroke-width="0.8"/>
<circle cx="938" cy="562.2" r="3.7" fill="none" stroke="#2a2a2a" stroke-width="1.7"/>
<line x1="934.3" y1="562.2" x2="941.7" y2="562.2" stroke="#2a2a2a" stroke-width="0.8"/>
<line x1="938" y1="558.5" x2="938" y2="565.9000000000001" stroke="#2a2a2a" stroke-width="0.8"/>
<rect x="828.3" y="541.5" width="93.5" height="42.3" fill="#fff" stroke="#2a2a2a" stroke-width="1.4"/>
<line x1="839.3" y1="541.5" x2="839.3" y2="583.8" stroke="#2a2a2a" stroke-width="1.3"/>
<line x1="910.7" y1="541.5" x2="910.7" y2="583.8" stroke="#2a2a2a" stroke-width="1.3"/>
<line x1="918.4" y1="541.5" x2="918.4" y2="583.8" stroke="#2a2a2a" stroke-width="0.7"/>
<line x1="839.3" y1="555.4" x2="910.7" y2="555.4" stroke="#2a2a2a" stroke-width="1.7"/>
<line x1="839.3" y1="569" x2="910.7" y2="569" stroke="#2a2a2a" stroke-width="1.7"/>
<line x1="920.5" y1="555" x2="920.5" y2="570" stroke="#2a2a2a" stroke-width="2.4"/>
<line x1="800" y1="562.2" x2="950" y2="562.2" stroke="#2a2a2a" stroke-width="0.6" stroke-dasharray="8,2,2,2"/>
<circle cx="845.3" cy="546.9" r="1.2" fill="#2a2a2a" stroke="#2a2a2a" stroke-width="0.8"/>
<line x1="841.8" y1="546.9" x2="848.8" y2="546.9" stroke="#2a2a2a" stroke-width="0.7"/>
<line x1="845.3" y1="543.4" x2="845.3" y2="550.4" stroke="#2a2a2a" stroke-width="0.7"/>
<circle cx="904" cy="546.9" r="1.2" fill="#2a2a2a" stroke="#2a2a2a" stroke-width="0.8"/>
<line x1="900.5" y1="546.9" x2="907.5" y2="546.9" stroke="#2a2a2a" stroke-width="0.7"/>
<line x1="904" y1="543.4" x2="904" y2="550.4" stroke="#2a2a2a" stroke-width="0.7"/>
<circle cx="845.3" cy="577.5" r="1.2" fill="#2a2a2a" stroke="#2a2a2a" stroke-width="0.8"/>
<line x1="841.8" y1="577.5" x2="848.8" y2="577.5" stroke="#2a2a2a" stroke-width="0.7"/>
<line x1="845.3" y1="574.0" x2="845.3" y2="581.0" stroke="#2a2a2a" stroke-width="0.7"/>
<circle cx="904" cy="577.5" r="1.2" fill="#2a2a2a" stroke="#2a2a2a" stroke-width="0.8"/>
<line x1="900.5" y1="577.5" x2="907.5" y2="577.5" stroke="#2a2a2a" stroke-width="0.7"/>
<line x1="904" y1="574.0" x2="904" y2="581.0" stroke="#2a2a2a" stroke-width="0.7"/>
<line x1="845.3" y1="546.9" x2="845.3" y2="577.5" stroke="#2a2a2a" stroke-width="0.6" stroke-dasharray="2,2"/>
<line x1="904" y1="546.9" x2="904" y2="577.5" stroke="#2a2a2a" stroke-width="0.6" stroke-dasharray="2,2"/>
</svg>
</body></html>
